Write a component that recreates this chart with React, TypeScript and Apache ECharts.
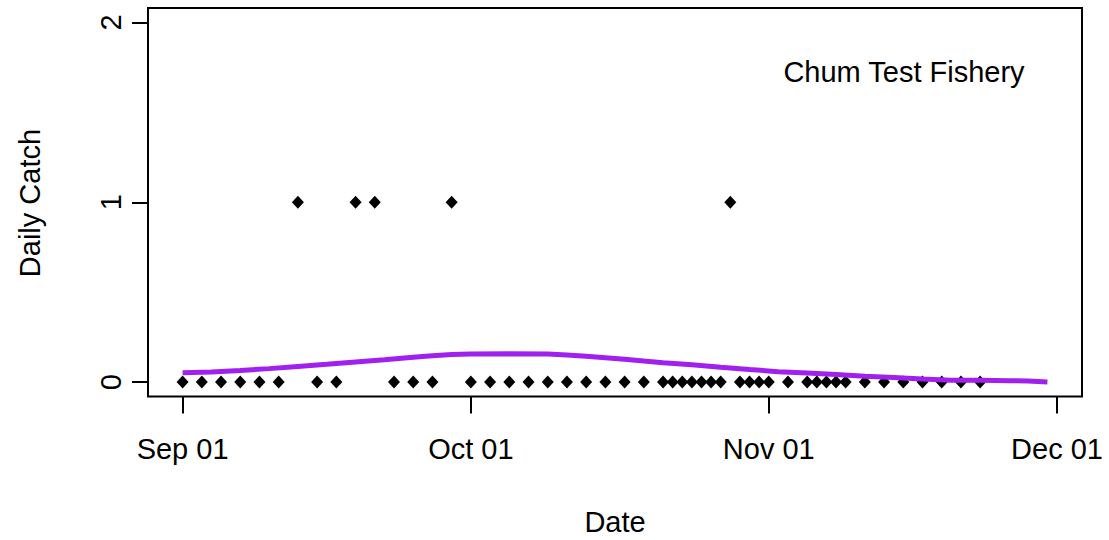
import React, { useEffect, useRef } from "react";
import * as echarts from "echarts";

// Daily test-fishery catches (date, count)
const catchDates = [
  "2011-09-01", "2011-09-03", "2011-09-05", "2011-09-07", "2011-09-09", "2011-09-11",
  "2011-09-13", "2011-09-15", "2011-09-17", "2011-09-19", "2011-09-21", "2011-09-23",
  "2011-09-25", "2011-09-27", "2011-09-29", "2011-10-01", "2011-10-03", "2011-10-05",
  "2011-10-07", "2011-10-09", "2011-10-11", "2011-10-13", "2011-10-15", "2011-10-17",
  "2011-10-19", "2011-10-21", "2011-10-22", "2011-10-23", "2011-10-24", "2011-10-25",
  "2011-10-26", "2011-10-27", "2011-10-28", "2011-10-29", "2011-10-30", "2011-10-31",
  "2011-11-01", "2011-11-03", "2011-11-05", "2011-11-06", "2011-11-07", "2011-11-08",
  "2011-11-09", "2011-11-11", "2011-11-13", "2011-11-15", "2011-11-17", "2011-11-19",
  "2011-11-21", "2011-11-23",
];
const catchCounts = [
  0, 0, 0, 0, 0, 0,
  1, 0, 0, 1, 1, 0,
  0, 0, 1, 0, 0, 0,
  0, 0, 0, 0, 0, 0,
  0, 0, 0, 0, 0, 0,
  0, 0, 1, 0, 0, 0,
  0, 0, 0, 0, 0, 0,
  0, 0, 0, 0, 0, 0,
  0, 0,
];

// Fitted run-timing curve (purple)
const fitDates = [
  "2011-09-01", "2011-09-04", "2011-09-07", "2011-09-10", "2011-09-13", "2011-09-16",
  "2011-09-19", "2011-09-22", "2011-09-25", "2011-09-27", "2011-09-29", "2011-10-01",
  "2011-10-05", "2011-10-09", "2011-10-11", "2011-10-13", "2011-10-15", "2011-10-17",
  "2011-10-19", "2011-10-21", "2011-10-24", "2011-10-27", "2011-10-30", "2011-11-02",
  "2011-11-05", "2011-11-08", "2011-11-11", "2011-11-14", "2011-11-17", "2011-11-20",
  "2011-11-23", "2011-11-26", "2011-11-28", "2011-11-30",
];
const fitValues = [
  0.052, 0.056, 0.065, 0.075, 0.087, 0.099,
  0.112, 0.124, 0.138, 0.147, 0.153, 0.156,
  0.157, 0.156, 0.151, 0.144, 0.136, 0.127,
  0.117, 0.108, 0.097, 0.083, 0.070, 0.058,
  0.050, 0.042, 0.032, 0.025, 0.017, 0.011,
  0.010, 0.008, 0.006, 0.001,
];

const xTickDates = ["2011-09-01", "2011-10-01", "2011-11-01", "2011-12-01"];
const xTickLabels = ["Sep 01", "Oct 01", "Nov 01", "Dec 01"];
const yTicks = [0, 1, 2];

const ORIGIN = Date.UTC(2011, 8, 1);
const dayOf = (s: string) => (Date.parse(s + "T00:00:00Z") - ORIGIN) / 864e5;

const FONT = "'Liberation Sans', Arial, sans-serif";
const FS = 29;

export default function App() {
  const ref = useRef<HTMLDivElement>(null);
  useEffect(() => {
    if (!ref.current) return;
    const chart = echarts.init(ref.current, null, { renderer: "svg" });
    const xTickDays = xTickDates.map(dayOf);
    const pts = catchDates.map((d, i) => [dayOf(d), catchCounts[i]]);
    const fit = fitDates.map((d, i) => [dayOf(d), fitValues[i]]);
    const days = pts.map((p) => p[0]).concat(fit.map((p) => p[0]));
    const dMin = Math.min(...days);
    const dMax = Math.max(...days);
    const pad = (dMax - dMin) * 0.04;
    chart.setOption({
      animation: false,
      backgroundColor: "#ffffff",
      grid: {
        left: 148,
        right: 27,
        top: 8,
        bottom: 143.5,
        show: true,
        borderColor: "#000",
        borderWidth: 2,
        backgroundColor: "transparent",
      },
      xAxis: {
        type: "value",
        min: dMin - pad,
        max: dMax + pad,
        position: "bottom",
        axisLine: { show: false, onZero: false },
        splitLine: { show: false },
        axisTick: {
          show: true,
          inside: false,
          length: 17,
          customValues: xTickDays,
          lineStyle: { color: "#000", width: 2 },
        },
        axisLabel: {
          customValues: xTickDays,
          formatter: (v: number) => {
            const i = xTickDays.findIndex((t) => Math.abs(t - v) < 1e-6);
            return i >= 0 ? xTickLabels[i] : "";
          },
          margin: 38,
          color: "#000",
          fontSize: FS,
          fontFamily: FONT,
        },
      },
      yAxis: {
        type: "value",
        min: -0.08,
        max: 2.08,
        position: "left",
        axisLine: { show: false, onZero: false },
        splitLine: { show: false },
        axisTick: {
          show: true,
          inside: false,
          length: 16,
          customValues: yTicks,
          lineStyle: { color: "#000", width: 2 },
        },
        axisLabel: {
          customValues: yTicks,
          rotate: 90,
          margin: 23,
          color: "#000",
          fontSize: FS,
          fontFamily: FONT,
        },
      },
      graphic: [
        {
          type: "text",
          x: 30,
          y: 203,
          rotation: Math.PI / 2,
          style: {
            text: "Daily Catch",
            fill: "#000",
            font: `${FS}px ${FONT}`,
            textAlign: "center",
            textVerticalAlign: "middle",
          },
        },
        {
          type: "text",
          x: 615,
          y: 522,
          style: {
            text: "Date",
            fill: "#000",
            font: `${FS}px ${FONT}`,
            textAlign: "center",
            textVerticalAlign: "middle",
          },
        },
        {
          type: "text",
          x: 904,
          y: 72,
          style: {
            text: "Chum Test Fishery",
            fill: "#000",
            font: `${FS}px ${FONT}`,
            textAlign: "center",
            textVerticalAlign: "middle",
          },
        },
      ],
      series: [
        {
          type: "scatter",
          data: pts,
          symbol: "diamond",
          symbolSize: [12, 13],
          itemStyle: { color: "#000", opacity: 1 },
          z: 2,
        },
        {
          type: "line",
          data: fit,
          showSymbol: false,
          symbol: "none",
          lineStyle: { color: "#A020F0", width: 5 },
          z: 3,
        },
      ],
    });
    return () => chart.dispose();
  }, []);
  return (
    <div
      ref={ref}
      style={{ position: "fixed", left: 0, top: 0, width: 1109, height: 540, background: "#fff" }}
    />
  );
}
